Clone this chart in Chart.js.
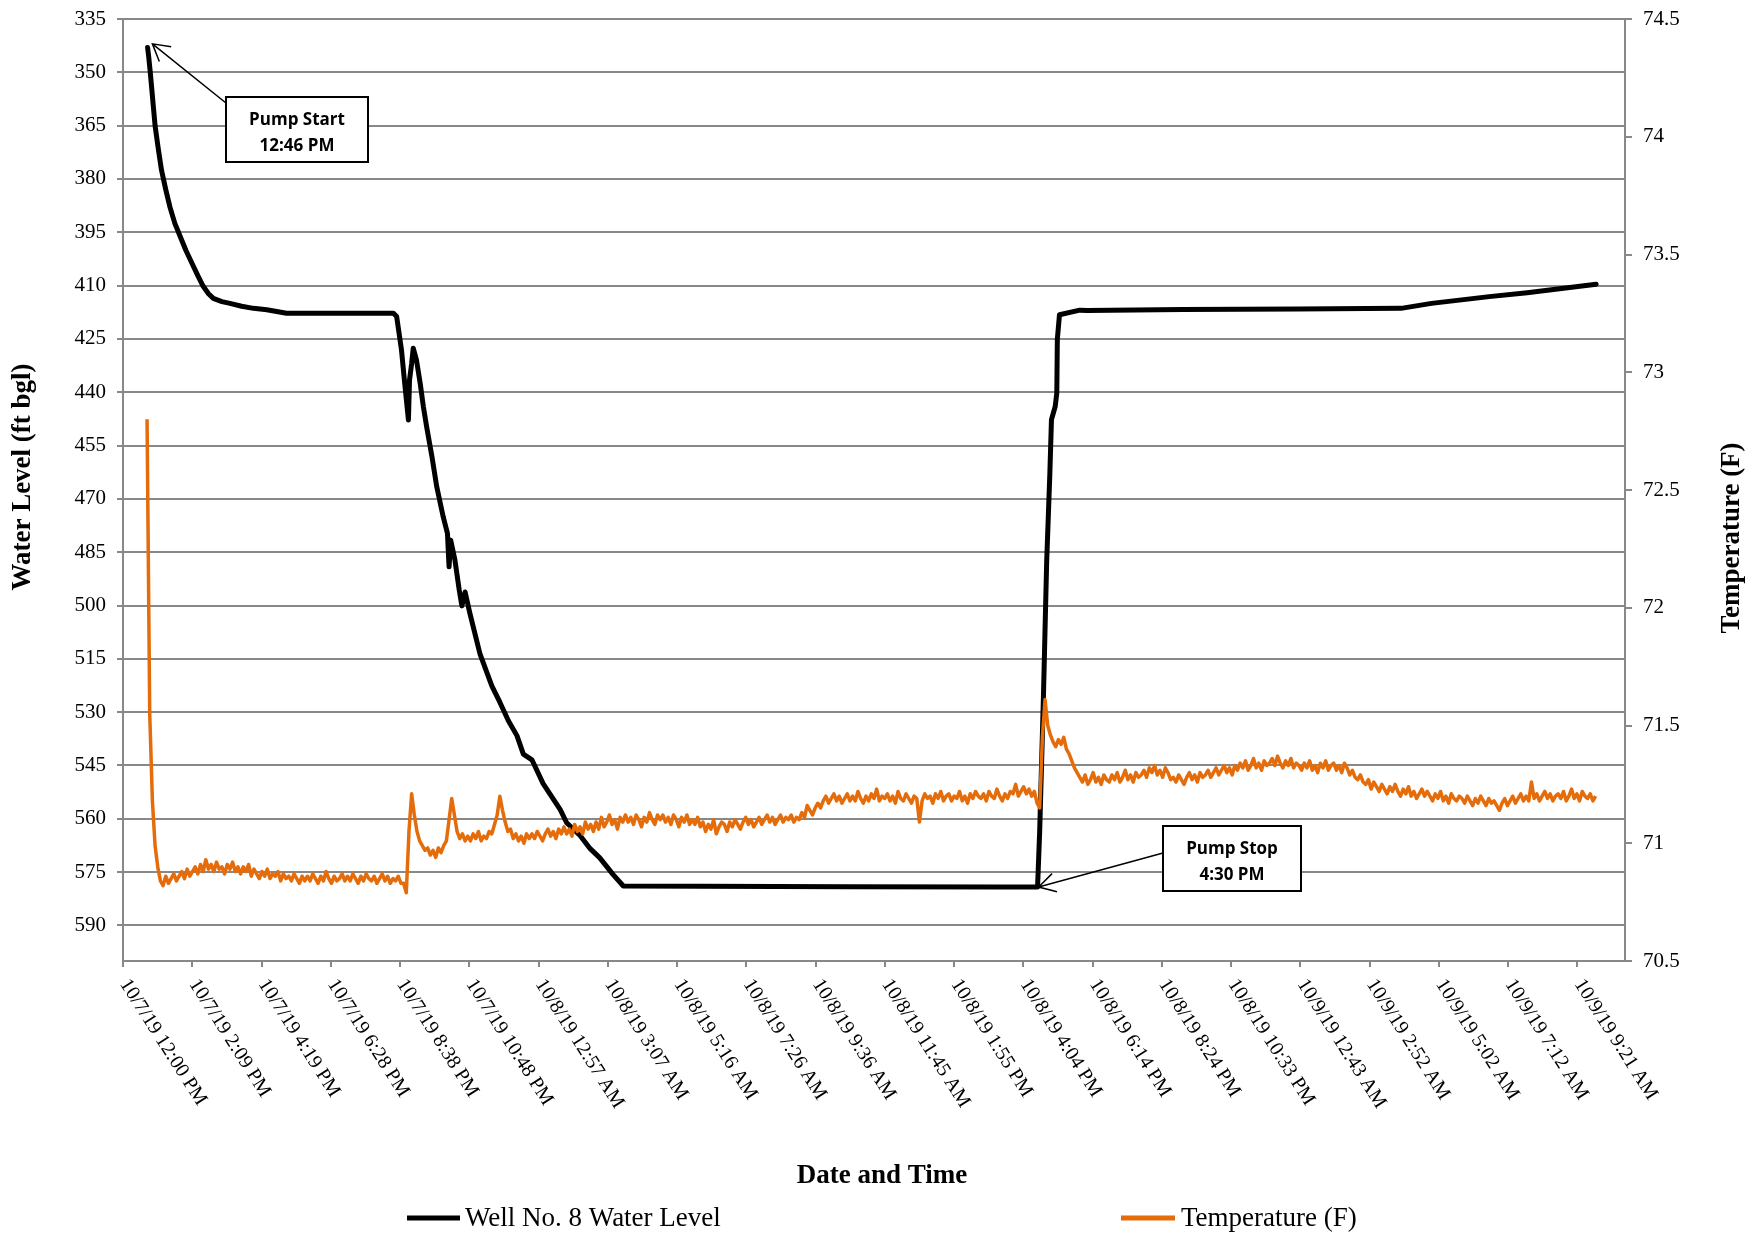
<!DOCTYPE html>
<html>
<head>
<meta charset="utf-8">
<title>Well No. 8 Water Level and Temperature</title>
<script src="https://cdn.jsdelivr.net/npm/chart.js@4.4.1/dist/chart.umd.min.js"></script>
<style>
  html, body { margin: 0; padding: 0; background: #ffffff; }
  canvas { display: block; }
</style>
</head>
<body>
<canvas id="chart" width="1760" height="1234"></canvas>
<script>
// Time is expressed in minutes after 10/7/19 12:00 PM.
const timeLabels = [
  '10/7/19 12:00 PM', '10/7/19 2:09 PM', '10/7/19 4:19 PM', '10/7/19 6:28 PM',
  '10/7/19 8:38 PM', '10/7/19 10:48 PM', '10/8/19 12:57 AM', '10/8/19 3:07 AM',
  '10/8/19 5:16 AM', '10/8/19 7:26 AM', '10/8/19 9:36 AM', '10/8/19 11:45 AM',
  '10/8/19 1:55 PM', '10/8/19 4:04 PM', '10/8/19 6:14 PM', '10/8/19 8:24 PM',
  '10/8/19 10:33 PM', '10/9/19 12:43 AM', '10/9/19 2:52 AM', '10/9/19 5:02 AM',
  '10/9/19 7:12 AM', '10/9/19 9:21 AM'
];
const labelSpacing = 2721 / 21;   // minutes between labelled ticks
const timeAxisEnd = 2810;

const levelTicks = [335, 350, 365, 380, 395, 410, 425, 440, 455, 470, 485, 500, 515, 530, 545, 560, 575, 590];
const tempTicks = [70.5, 71, 71.5, 72, 72.5, 73, 73.5, 74, 74.5];

// Well No. 8 water level (ft bgl)
const levelTimes = [
  46, 48, 51, 54, 57, 60, 66, 72, 80, 88, 97, 107, 118, 129, 140, 150, 160, 169, 185, 200,
  222, 244, 269, 306, 400, 480, 506, 512,
  521, 527, 534, 536, 540, 543, 549, 556, 562, 568, 578, 587, 599, 607, 610, 613, 621, 629,
  634, 640, 649, 668, 690, 705, 721, 737, 749, 765, 786, 818, 830, 855, 874, 892, 917, 936,
  1080, 1360, 1641, 1711,
  1715, 1722, 1728, 1734, 1737, 1744, 1747, 1748, 1752, 1790, 1804, 1983, 2198, 2391,
  2448, 2556, 2627, 2756
];
const levelValues = [
  343, 345.5, 350, 355, 360, 365, 371.5, 377.5, 383, 388, 392.5, 396.2, 400.2, 403.7, 407.2, 410.2, 412.3, 413.6, 414.5, 415.0,
  415.8, 416.4, 416.8, 417.8, 417.8, 417.8, 417.8, 418.7,
  428.1, 437.5, 447.8, 436.6, 431.9, 427.6, 430.9, 437.5, 444.1, 449.7, 458.1, 466.6, 475.0, 479.7, 489.1, 481.6, 487.2, 495.6,
  500.1, 496.2, 502.2, 513.7, 522.6, 527.2, 532.4, 536.6, 541.8, 543.4, 550.1, 557.4, 561.1, 564.7, 568.4, 571.0, 575.7, 578.9,
  579.0, 579.1, 579.2, 579.2,
  563.3, 525.6, 487.9, 462.8, 447.7, 444.0, 440.2, 425.1, 418.2, 416.9, 417.0, 416.7, 416.6, 416.4,
  415.0, 413.1, 412.0, 409.6
];

// Temperature (F), one logger reading every 5 minutes from 12:45 PM on 10/7/19
const tempStart = 45;
const tempInterval = 5;
const tempValues = [
  72.80, 71.55, 71.18, 70.99, 70.90, 70.84, 70.82, 70.86, 70.83, 70.85, 70.87, 70.84,
  70.86, 70.88, 70.85, 70.89, 70.86, 70.88, 70.90, 70.87, 70.91, 70.88, 70.93, 70.89,
  70.91, 70.88, 70.92, 70.89, 70.90, 70.87, 70.91, 70.89, 70.92, 70.88, 70.90, 70.87,
  70.90, 70.88, 70.91, 70.86, 70.89, 70.87, 70.85, 70.88, 70.86, 70.89, 70.85, 70.87,
  70.86, 70.88, 70.84, 70.87, 70.85, 70.86, 70.84, 70.87, 70.85, 70.83, 70.86, 70.84,
  70.86, 70.84, 70.87, 70.85, 70.83, 70.86, 70.84, 70.88, 70.85, 70.83, 70.86, 70.84,
  70.85, 70.87, 70.84, 70.86, 70.84, 70.87, 70.85, 70.83, 70.86, 70.84, 70.87, 70.85,
  70.84, 70.86, 70.83, 70.85, 70.87, 70.84, 70.86, 70.83, 70.85, 70.84, 70.86, 70.83,
  70.83, 70.79, 71.05, 71.21, 71.12, 71.05, 71.01, 70.99, 70.97, 70.98, 70.95, 70.97,
  70.94, 70.98, 70.96, 70.99, 71.01, 71.10, 71.19, 71.12, 71.05, 71.02, 71.04, 71.01,
  71.03, 71.01, 71.04, 71.02, 71.05, 71.01, 71.03, 71.02, 71.05, 71.04, 71.08, 71.12,
  71.20, 71.14, 71.09, 71.05, 71.06, 71.02, 71.04, 71.01, 71.03, 71.00, 71.04, 71.02,
  71.04, 71.02, 71.05, 71.03, 71.01, 71.04, 71.06, 71.03, 71.05, 71.02, 71.06, 71.04,
  71.07, 71.04, 71.06, 71.03, 71.08, 71.05, 71.07, 71.04, 71.09, 71.06, 71.08, 71.05,
  71.09, 71.06, 71.11, 71.07, 71.09, 71.12, 71.08, 71.10, 71.06, 71.11, 71.09, 71.12,
  71.09, 71.11, 71.08, 71.12, 71.10, 71.07, 71.11, 71.09, 71.13, 71.10, 71.08, 71.12,
  71.10, 71.12, 71.09, 71.11, 71.08, 71.12, 71.10, 71.07, 71.11, 71.09, 71.12, 71.08,
  71.10, 71.08, 71.11, 71.07, 71.09, 71.05, 71.08, 71.06, 71.10, 71.04, 71.07, 71.09,
  71.08, 71.05, 71.09, 71.07, 71.10, 71.08, 71.06, 71.09, 71.11, 71.08, 71.10, 71.07,
  71.09, 71.11, 71.08, 71.10, 71.12, 71.09, 71.11, 71.08, 71.10, 71.12, 71.09, 71.11,
  71.10, 71.12, 71.09, 71.11, 71.10, 71.13, 71.11, 71.16, 71.14, 71.12, 71.15, 71.17,
  71.15, 71.18, 71.20, 71.17, 71.19, 71.21, 71.18, 71.20, 71.17, 71.19, 71.21, 71.18,
  71.20, 71.18, 71.22, 71.19, 71.17, 71.20, 71.18, 71.21, 71.19, 71.23, 71.18, 71.20,
  71.19, 71.21, 71.18, 71.20, 71.17, 71.22, 71.19, 71.18, 71.21, 71.19, 71.17, 71.20,
  71.19, 71.09, 71.18, 71.21, 71.19, 71.20, 71.17, 71.21, 71.19, 71.22, 71.18, 71.20,
  71.21, 71.18, 71.20, 71.19, 71.22, 71.18, 71.20, 71.17, 71.21, 71.19, 71.22, 71.20,
  71.19, 71.21, 71.18, 71.22, 71.20, 71.19, 71.23, 71.20, 71.18, 71.21, 71.19, 71.22,
  71.21, 71.25, 71.20, 71.22, 71.24, 71.21, 71.23, 71.20, 71.22, 71.17, 71.15, 71.45,
  71.61, 71.50, 71.46, 71.43, 71.41, 71.44, 71.42, 71.45, 71.40, 71.38, 71.35, 71.32,
  71.30, 71.28, 71.26, 71.29, 71.25, 71.27, 71.30, 71.26, 71.28, 71.25, 71.29, 71.27,
  71.26, 71.29, 71.27, 71.30, 71.26, 71.28, 71.31, 71.27, 71.29, 71.26, 71.30, 71.28,
  71.29, 71.31, 71.28, 71.32, 71.30, 71.33, 71.29, 71.31, 71.28, 71.32, 71.30, 71.27,
  71.28, 71.26, 71.29, 71.27, 71.25, 71.28, 71.30, 71.27, 71.29, 71.26, 71.30, 71.28,
  71.29, 71.31, 71.28, 71.30, 71.32, 71.29, 71.31, 71.33, 71.30, 71.32, 71.29, 71.33,
  71.31, 71.34, 71.32, 71.35, 71.31, 71.33, 71.36, 71.32, 71.34, 71.31, 71.35, 71.33,
  71.34, 71.36, 71.33, 71.37, 71.34, 71.32, 71.35, 71.33, 71.36, 71.32, 71.34, 71.33,
  71.31, 71.34, 71.32, 71.35, 71.31, 71.33, 71.30, 71.34, 71.32, 71.35, 71.31, 71.33,
  71.34, 71.31, 71.33, 71.30, 71.34, 71.32, 71.29, 71.31, 71.28, 71.27, 71.29, 71.26,
  71.25, 71.27, 71.23, 71.26, 71.24, 71.22, 71.25, 71.23, 71.21, 71.24, 71.22, 71.25,
  71.22, 71.20, 71.23, 71.21, 71.24, 71.20, 71.22, 71.19, 71.21, 71.23, 71.20, 71.22,
  71.20, 71.18, 71.21, 71.19, 71.22, 71.18, 71.20, 71.17, 71.21, 71.19, 71.18, 71.20,
  71.19, 71.17, 71.20, 71.18, 71.16, 71.19, 71.17, 71.20, 71.18, 71.16, 71.19, 71.17,
  71.18, 71.16, 71.14, 71.17, 71.19, 71.16, 71.18, 71.20, 71.17, 71.19, 71.21, 71.18,
  71.20, 71.18, 71.26, 71.19, 71.21, 71.18, 71.20, 71.22, 71.19, 71.21, 71.18, 71.20,
  71.21, 71.19, 71.22, 71.18, 71.20, 71.23, 71.19, 71.21, 71.18, 71.22, 71.20, 71.19,
  71.21, 71.18, 71.20
];

const levelPoints = levelTimes.map((t, i) => ({ x: t, y: levelValues[i] }));
const tempPoints = tempValues.map((v, i) => ({ x: tempStart + i * tempInterval, y: v }));

const serif = '"Liberation Serif", "Times New Roman", serif';
const sans = '"Open Sans", "Liberation Sans", sans-serif';
const axisGray = '#888888';
const levelColor = '#000000';
const tempColor = '#E46C0A';

Chart.defaults.font.family = serif;
Chart.defaults.color = '#000000';

// Callout boxes with arrows pointing at the pump start / stop readings
const callouts = [
  { lines: ['Pump Start', '12:46 PM'], box: { x: 226, y: 97, w: 142, h: 65 }, from: { x: 226, y: 103 }, tip: { t: 55, level: 342 } },
  { lines: ['Pump Stop', '4:30 PM'], box: { x: 1163, y: 826, w: 138, h: 65 }, from: { x: 1163, y: 853 }, tip: { t: 1713, level: 579.2 } }
];

function drawArrow(ctx, x0, y0, x1, y1) {
  ctx.beginPath();
  ctx.moveTo(x0, y0);
  ctx.lineTo(x1, y1);
  const a = Math.atan2(y0 - y1, x0 - x1);
  const len = 19, spread = 0.52;
  ctx.moveTo(x1 + len * Math.cos(a - spread), y1 + len * Math.sin(a - spread));
  ctx.lineTo(x1, y1);
  ctx.lineTo(x1 + len * Math.cos(a + spread), y1 + len * Math.sin(a + spread));
  ctx.stroke();
}

// fixed axis box sizes so the plot area sits at the same place every time
function fixVertical(width) {
  return s => {
    s.width = width;
    s.paddingTop = 0;
    s.paddingBottom = 0;
  };
}

const decorations = {
  id: 'decorations',
  beforeDraw(chart) {
    const { ctx, width, height } = chart;
    ctx.save();
    ctx.fillStyle = '#ffffff';
    ctx.fillRect(0, 0, width, height);
    ctx.restore();
  },
  afterDraw(chart) {
    const { ctx } = chart;
    const xs = chart.scales.x;
    const ys = chart.scales.yLevel;
    ctx.save();

    // rotated date/time labels under the axis
    ctx.fillStyle = '#000';
    ctx.font = '20px ' + serif;
    ctx.textAlign = 'left';
    ctx.textBaseline = 'middle';
    const ang = 57.5 * Math.PI / 180;
    timeLabels.forEach((lab, i) => {
      const px = xs.getPixelForValue(i * labelSpacing);
      ctx.save();
      ctx.translate(px + 1, xs.top + 20);
      ctx.rotate(ang);
      ctx.fillText(lab, 0, 0);
      ctx.restore();
    });

    // axis titles
    ctx.font = 'bold 27px ' + serif;
    ctx.textAlign = 'center';
    ctx.fillText('Date and Time', 882, 1176);

    ctx.save();
    ctx.translate(23, 477);
    ctx.rotate(-Math.PI / 2);
    ctx.fillText('Water Level (ft bgl)', 0, 0);
    ctx.restore();

    ctx.save();
    ctx.translate(1732, 538);
    ctx.rotate(-Math.PI / 2);
    ctx.fillText('Temperature (F)', 0, 0);
    ctx.restore();

    // legend
    ctx.lineCap = 'butt';
    ctx.lineWidth = 5;
    ctx.strokeStyle = levelColor;
    ctx.beginPath(); ctx.moveTo(407, 1218); ctx.lineTo(460, 1218); ctx.stroke();
    ctx.strokeStyle = tempColor;
    ctx.beginPath(); ctx.moveTo(1121, 1218); ctx.lineTo(1175, 1218); ctx.stroke();
    ctx.font = '27px ' + serif;
    ctx.textAlign = 'left';
    ctx.fillStyle = '#000';
    ctx.fillText('Well No. 8 Water Level', 465, 1219);
    ctx.fillText('Temperature (F)', 1181, 1219);

    // callouts
    callouts.forEach(c => {
      const tx = xs.getPixelForValue(c.tip.t);
      const ty = ys.getPixelForValue(c.tip.level);
      ctx.strokeStyle = '#000';
      ctx.lineWidth = 1.5;
      drawArrow(ctx, c.from.x, c.from.y, tx, ty);
      ctx.fillStyle = '#fff';
      ctx.fillRect(c.box.x, c.box.y, c.box.w, c.box.h);
      ctx.lineWidth = 2;
      ctx.strokeRect(c.box.x, c.box.y, c.box.w, c.box.h);
      ctx.fillStyle = '#000';
      ctx.font = 'bold 17px ' + sans;
      ctx.textAlign = 'center';
      ctx.textBaseline = 'middle';
      const cx = c.box.x + c.box.w / 2;
      ctx.fillText(c.lines[0], cx, c.box.y + 23);
      ctx.fillText(c.lines[1], cx, c.box.y + 49);
    });
    ctx.restore();
  }
};

new Chart(document.getElementById('chart'), {
  type: 'line',
  data: {
    datasets: [
      {
        label: 'Temperature (F)',
        data: tempPoints,
        yAxisID: 'yTemp',
        borderColor: tempColor,
        borderWidth: 3.5,
        borderJoinStyle: 'round',
        pointRadius: 0,
        tension: 0,
        order: 0
      },
      {
        label: 'Well No. 8 Water Level',
        data: levelPoints,
        yAxisID: 'yLevel',
        borderColor: levelColor,
        borderWidth: 5,
        borderJoinStyle: 'round',
        borderCapStyle: 'round',
        pointRadius: 0,
        tension: 0,
        order: 1
      }
    ]
  },
  options: {
    responsive: false,
    animation: false,
    devicePixelRatio: 1,
    layout: { padding: { top: 19, left: 0, right: 0, bottom: 0 } },
    plugins: { legend: { display: false }, tooltip: { enabled: false }, title: { display: false } },
    scales: {
      x: {
        type: 'linear',
        min: 0,
        max: timeAxisEnd,
        afterBuildTicks: s => { s.ticks = timeLabels.map((_, i) => ({ value: i * labelSpacing })); },
        afterFit: s => { s.height = 273; s.paddingLeft = 0; s.paddingRight = 0; },
        ticks: { display: false },
        grid: { drawOnChartArea: false, drawTicks: true, tickLength: 6, color: axisGray, lineWidth: 2 },
        border: { display: true, color: axisGray, width: 2 }
      },
      yLevel: {
        type: 'linear',
        position: 'left',
        reverse: true,
        min: 335,
        max: 600,
        afterBuildTicks: s => { s.ticks = levelTicks.map(v => ({ value: v })); },
        afterFit: fixVertical(123),
        ticks: { color: '#000', padding: 11, font: { family: serif, size: 21 }, callback: v => String(v) },
        grid: { color: axisGray, lineWidth: 2, drawTicks: true, tickLength: 6 },
        border: { display: true, color: axisGray, width: 2 }
      },
      yTemp: {
        type: 'linear',
        position: 'right',
        min: 70.5,
        max: 74.5,
        afterBuildTicks: s => { s.ticks = tempTicks.map(v => ({ value: v })); },
        afterFit: fixVertical(135),
        ticks: { color: '#000', padding: 11, font: { family: serif, size: 21 }, callback: v => String(v) },
        grid: { drawOnChartArea: false, drawTicks: true, tickLength: 7, color: axisGray, lineWidth: 2 },
        border: { display: true, color: axisGray, width: 2 }
      }
    }
  },
  plugins: [decorations]
});
</script>
</body>
</html>
